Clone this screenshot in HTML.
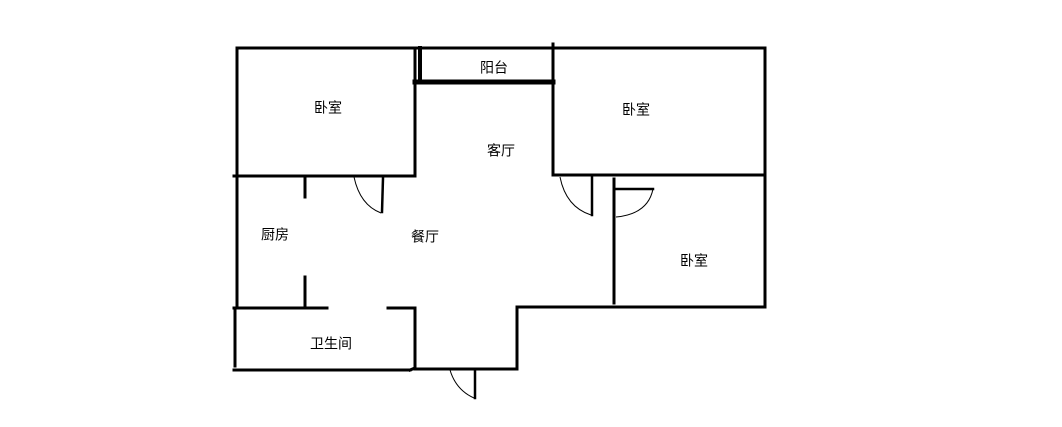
<!DOCTYPE html>
<html><head><meta charset="utf-8"><style>
html,body{margin:0;padding:0;background:#fff;}
svg{display:block}
text{font-family:"Liberation Sans","Noto Sans CJK SC",sans-serif;font-size:14px;fill:#000;text-anchor:middle;dominant-baseline:middle}
</style></head><body>
<svg width="1062" height="427" viewBox="0 0 1062 427" xmlns="http://www.w3.org/2000/svg">
<g stroke="#000" stroke-width="3" fill="none" stroke-linecap="square">
<line x1="237" y1="48" x2="765" y2="48"/>
<line x1="237" y1="48" x2="237" y2="175"/>
<line x1="415" y1="48" x2="415" y2="175"/>
<line x1="234" y1="176" x2="415" y2="176"/>
<line x1="420" y1="48" x2="420" y2="82" stroke-width="4"/>
<line x1="415" y1="82" x2="553" y2="82" stroke-width="5"/>
<line x1="553" y1="44" x2="553" y2="175"/>
<line x1="765" y1="48" x2="765" y2="307"/>
<line x1="553" y1="175" x2="765" y2="175"/>
<line x1="614" y1="179" x2="614" y2="303"/>
<line x1="517" y1="307" x2="765" y2="307"/>
<line x1="517" y1="307" x2="517" y2="368"/>
<line x1="415" y1="369" x2="517" y2="369"/>
<line x1="415" y1="308" x2="415" y2="369"/>
<line x1="388" y1="308" x2="415" y2="308"/>
<line x1="237" y1="176" x2="237" y2="308"/>
<line x1="305" y1="176" x2="305" y2="197"/>
<line x1="305" y1="277" x2="305" y2="307"/>
<line x1="234" y1="308" x2="327" y2="308"/>
<line x1="235" y1="308" x2="235" y2="366"/>
<line x1="234" y1="370" x2="410" y2="370"/>
<line x1="410" y1="370" x2="415" y2="368"/>
<line x1="383" y1="178" x2="382" y2="212" stroke-width="2.5"/>
<line x1="592" y1="177" x2="592" y2="215" stroke-width="2.5"/>
<line x1="616" y1="189" x2="653" y2="189" stroke-width="2.5"/>
<line x1="475" y1="369" x2="475" y2="398" stroke-width="2.5"/>
</g>
<g stroke="#000" stroke-width="1" fill="none">
<path d="M354 177 Q360 205 381 213"/>
<path d="M560 177 Q566 207 591 215"/>
<path d="M653 189 Q648 214 616 217"/>
<path d="M450 370 Q456 390 474 398"/>
</g>
<text x="328" y="109">卧室</text>
<text x="494" y="69">阳台</text>
<text x="501" y="152">客厅</text>
<text x="636" y="111">卧室</text>
<text x="275" y="236">厨房</text>
<text x="425" y="238">餐厅</text>
<text x="694" y="262">卧室</text>
<text x="331" y="345">卫生间</text>
</svg>
</body></html>
